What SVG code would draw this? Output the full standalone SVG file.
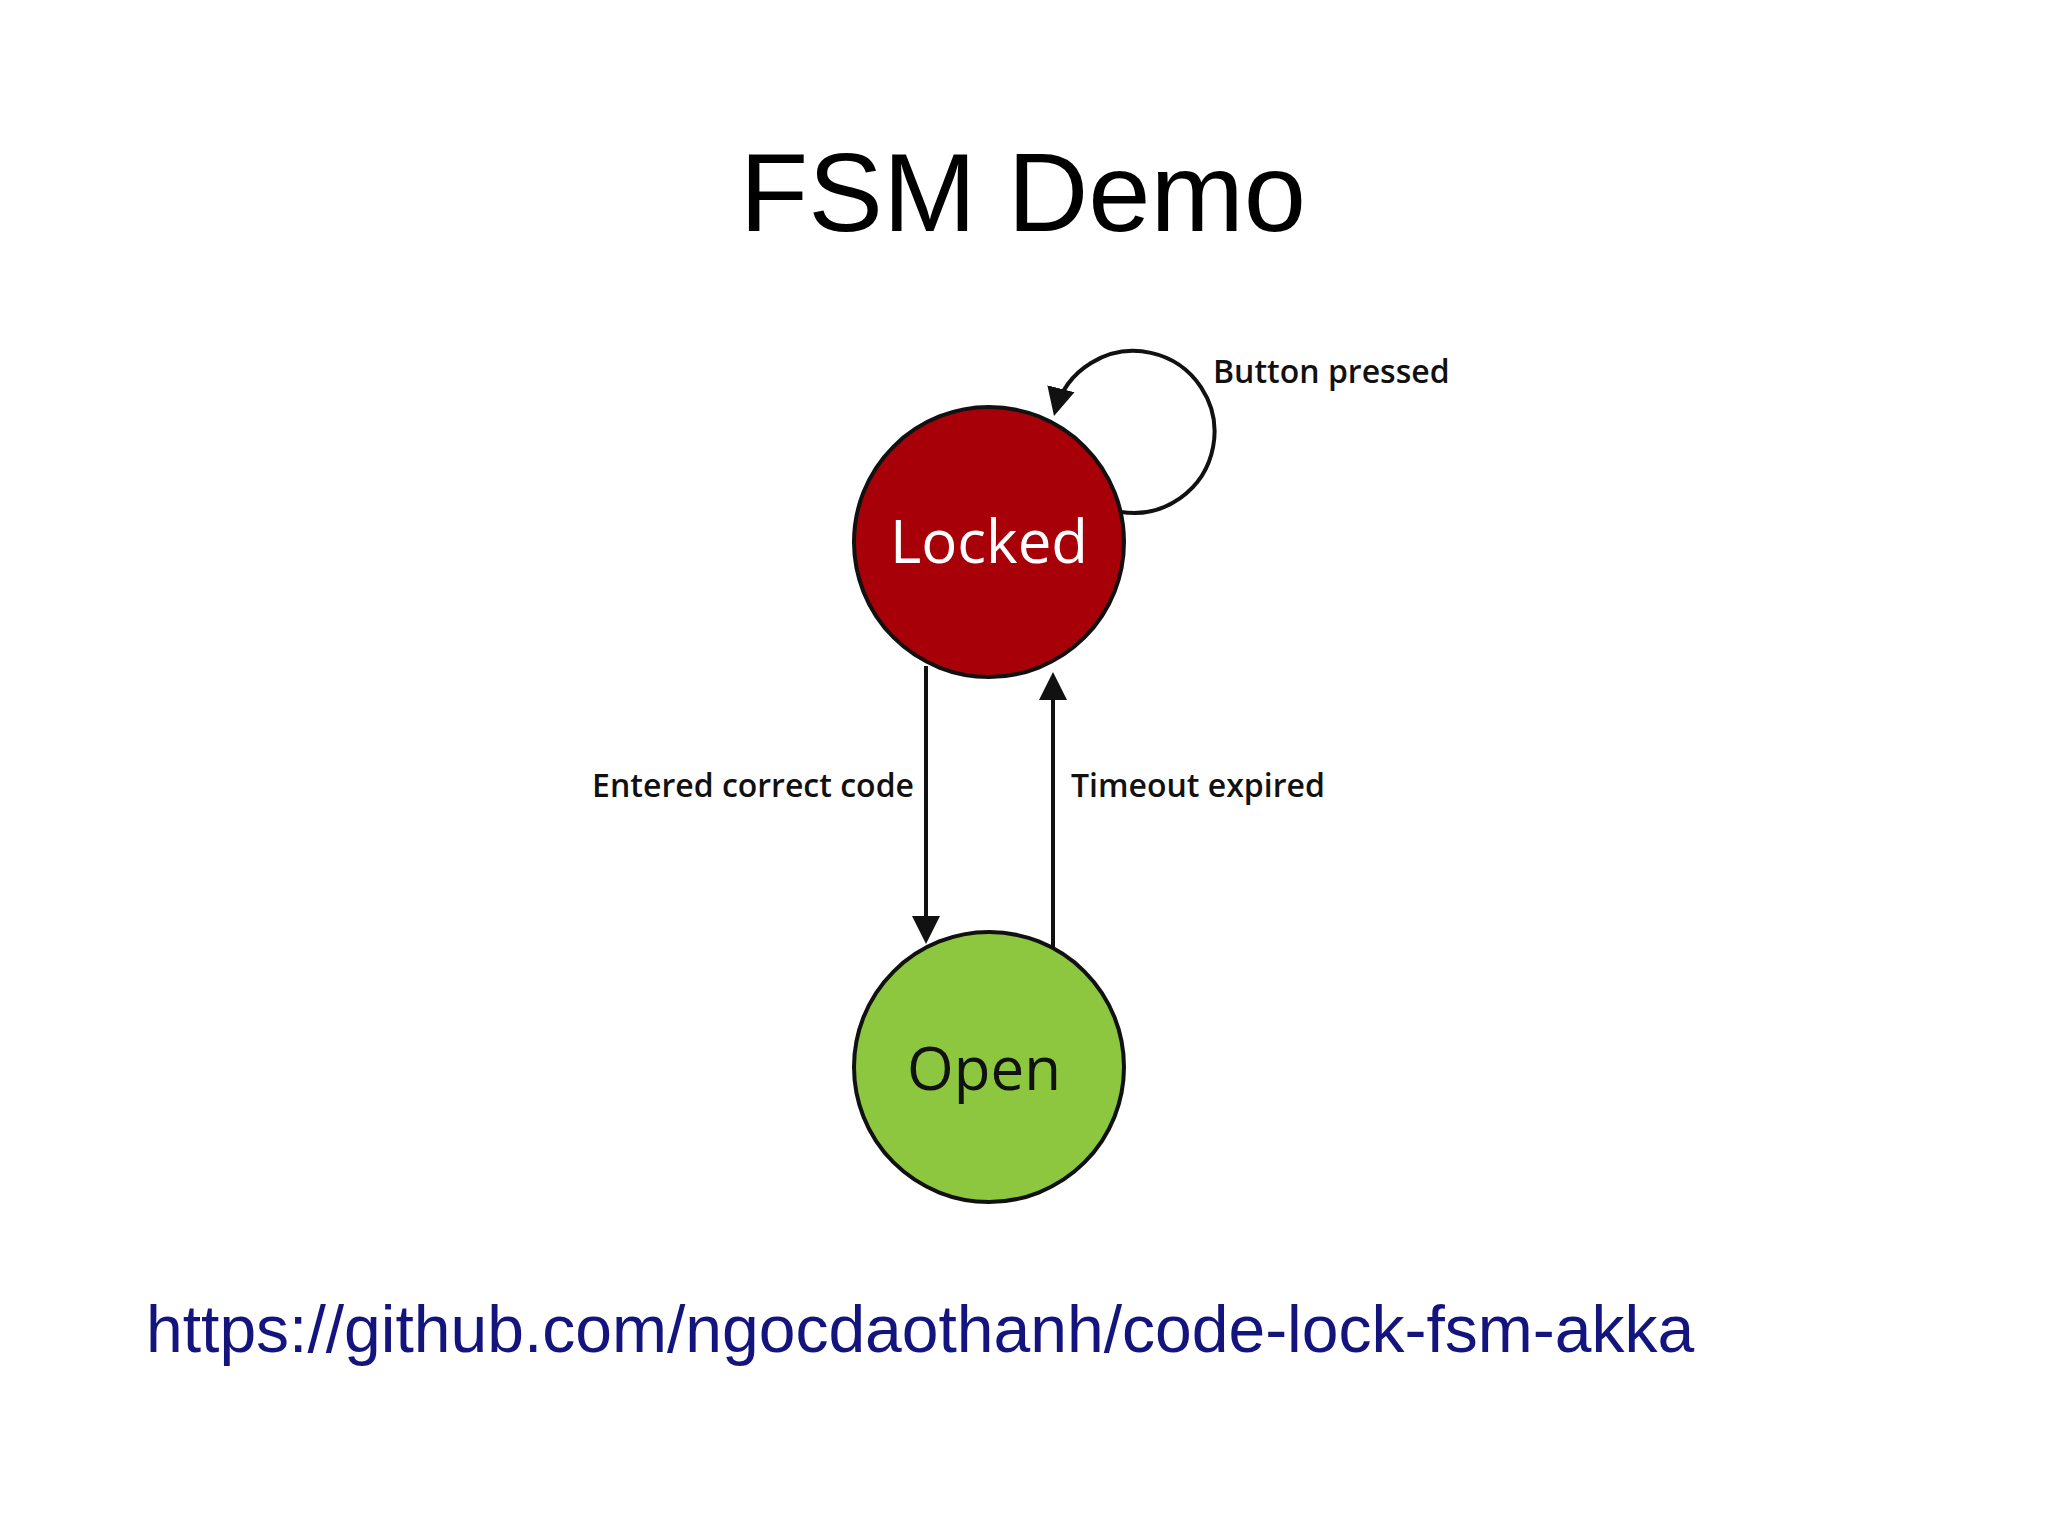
<svg xmlns="http://www.w3.org/2000/svg" width="2048" height="1535" viewBox="0 0 2048 1535">
<style>
.lbl{font-family:"Open Sans","Liberation Sans",sans-serif;font-weight:600;font-size:32px;fill:#111}
.st{font-family:"Open Sans","Liberation Sans",sans-serif;font-size:60px}
.edge{fill:none;stroke:#111;stroke-width:4}
</style>
<defs><marker id="ah" markerWidth="8" markerHeight="8" refX="6" refY="4" orient="auto" markerUnits="strokeWidth"><path d="M0,0.5 L7,4 L0,7.5 Z" fill="#111"/></marker></defs>
<rect width="2048" height="1535" fill="#fff"/>
<text x="1023" y="231" text-anchor="middle" font-family="Liberation Sans,sans-serif" font-size="112" fill="#000">FSM Demo</text>
<g id="edges">
<path class="edge" d="M926,666 L926,940" marker-end="url(#ah)"/>
<path class="edge" d="M1053,947 L1053,676" marker-end="url(#ah)"/>
<path class="edge" d="M1121,512 A81,81 0 1 0 1055,412" marker-end="url(#ah)"/>
<text class="lbl" x="1213" y="383">Button pressed</text>
<text class="lbl" x="914" y="797" text-anchor="end">Entered correct code</text>
<text class="lbl" x="1071" y="797">Timeout expired</text>
</g>
<g id="locked"><circle cx="989" cy="542" r="135" fill="#a80008" stroke="#111" stroke-width="4"/><text class="st" x="989" y="563" text-anchor="middle" fill="#fff">Locked</text></g>
<g id="open"><circle cx="989" cy="1067" r="135" fill="#8dc63f" stroke="#111" stroke-width="4"/><text class="st" x="984" y="1090" text-anchor="middle" fill="#111">Open</text></g>
<text x="146" y="1352" font-family="Liberation Sans,sans-serif" font-size="66" fill="#14147f">https://github.com/ngocdaothanh/code-lock-fsm-akka</text>
</svg>
